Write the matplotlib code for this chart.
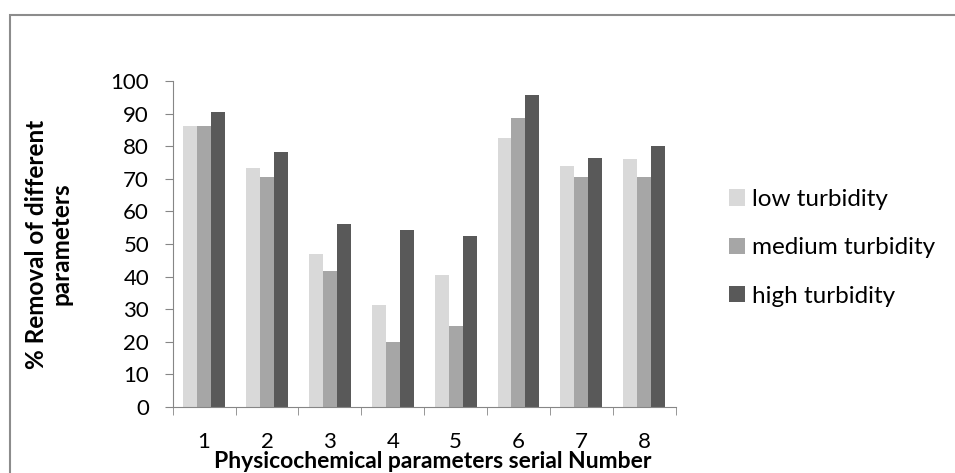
import numpy as np
import matplotlib
matplotlib.use('Agg')
import matplotlib.pyplot as plt
from matplotlib.patches import Rectangle

plt.rcParams['font.family'] = ['Lato', 'DejaVu Sans']

# Datos
serial = ['1', '2', '3', '4', '5', '6', '7', '8']
low_turbidity = [86.3, 73.2, 47.0, 31.4, 40.4, 82.6, 74.0, 76.0]
medium_turbidity = [86.3, 70.7, 41.7, 19.8, 24.9, 88.7, 70.7, 70.5]
high_turbidity = [90.6, 78.2, 56.0, 54.2, 52.4, 95.6, 76.3, 80.1]

series = [('low turbidity', low_turbidity, '#d9d9d9'),
          ('medium turbidity', medium_turbidity, '#a6a6a6'),
          ('high turbidity', high_turbidity, '#595959')]

fig = plt.figure(figsize=(9.55, 4.73), dpi=100)
ax = fig.add_axes([0.1808, 0.1395, 0.5267, 0.6893])

# marco gris alrededor del grafico (cortado a la derecha y abajo)
fig.patches.append(Rectangle((9.5 / 955, -0.1), 1.2, 0.1 + 1 - 15 / 473,
                             transform=fig.transFigure, fill=False,
                             edgecolor='#8c8c8c', linewidth=1.5))

x = np.arange(len(serial))
w = 1 / 4.5
for i, (nombre, valores, color) in enumerate(series):
    ax.bar(x + (i - 1) * w, valores, width=w, color=color, label=nombre)

gris = '#868686'
ax.set_xlim(-0.5, len(serial) - 0.5)
ax.set_ylim(0, 100)
ax.set_yticks(range(0, 101, 10))
ax.tick_params(axis='y', labelsize=16, length=6, color=gris, pad=11)
ax.set_xticks(x)
ax.set_xticklabels(serial)
ax.tick_params(axis='x', which='major', length=0, labelsize=16, pad=18)
ax.set_xticks(np.arange(-0.5, len(serial)), minor=True)
ax.tick_params(axis='x', which='minor', length=5.5, color=gris)

for lado in ['top', 'right']:
    ax.spines[lado].set_visible(False)
for lado in ['left', 'bottom']:
    ax.spines[lado].set_color(gris)

fig.text(0.051, 0.484, '% Removal of different\nparameters', rotation=90,
         ha='center', va='center', multialignment='center',
         fontsize=17.5, fontweight='bold', linespacing=1.05)
fig.text(433 / 955, 5 / 473, 'Physicochemical parameters serial Number',
         ha='center', va='baseline', fontsize=16.5, fontweight='bold')

ax.legend(loc='center left', bbox_to_anchor=(1.106, 0.488), frameon=False,
          fontsize=17.5, handlelength=0.66, handleheight=0.66,
          handletextpad=0.3, labelspacing=1.12, borderpad=0,
          borderaxespad=0)

fig.savefig('out.png', dpi=100)
